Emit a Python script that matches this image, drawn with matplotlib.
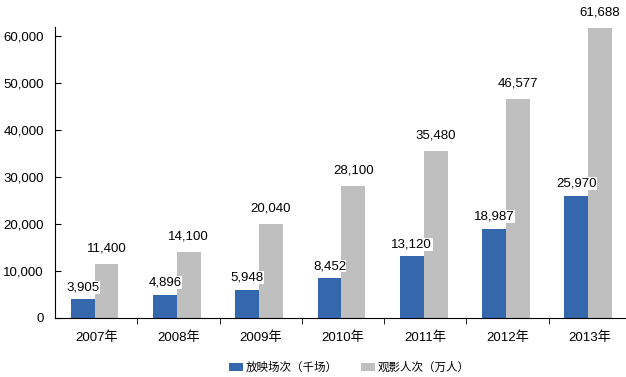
import numpy as np
import matplotlib.pyplot as plt
from matplotlib.ticker import FuncFormatter, FixedLocator

years = ['2007年', '2008年', '2009年', '2010年', '2011年', '2012年', '2013年']
screenings = [3905, 4896, 5948, 8452, 13120, 18987, 25970]
admissions = [11400, 14100, 20040, 28100, 35480, 46577, 61688]
series_names = ['放映场次（千场）', '观影人次（万人）']

plt.rcParams['font.family'] = ['Liberation Sans', 'Noto Sans CJK SC', 'DejaVu Sans']
fs = 9.5

fig = plt.figure(figsize=(6.26, 3.77), dpi=100)
# the category axis runs a little past the right edge of the figure, as in the original
ax = fig.add_axes([0.088, 0.157, 0.92, 0.772])

x = np.arange(len(years))
w = 0.29
shift = -0.02
blue = '#3467AC'
gray = '#BFBFBF'
b1 = ax.bar(x - w / 2 + shift, screenings, w, color=blue, label=series_names[0])
b2 = ax.bar(x + w / 2 + shift, admissions, w, color=gray, label=series_names[1])

for xi, v in zip(x, screenings):
    ax.text(xi - w / 2 + shift, v + 1300, f'{v:,}', ha='center', va='bottom', fontsize=fs,
            bbox=dict(facecolor='white', edgecolor='none', pad=0.3))
for xi, v in zip(x, admissions):
    ax.text(xi + w / 2 + shift, v + 2000, f'{v:,}', ha='center', va='bottom', fontsize=fs)

ax.set_xlim(-0.5, len(years) - 0.5)
ax.set_ylim(0, 62000)
ax.set_yticks(range(0, 60001, 10000))
ax.yaxis.set_major_formatter(FuncFormatter(lambda v, p: f'{int(v):,}'))
ax.tick_params(axis='y', direction='in', length=4, labelsize=fs, pad=8)

ax.set_xticks(x)
ax.set_xticklabels(years, fontsize=fs)
ax.tick_params(axis='x', which='major', length=0, pad=10)
ax.xaxis.set_minor_locator(FixedLocator(np.arange(0.5, len(years) - 0.5, 1)))
ax.tick_params(axis='x', which='minor', direction='out', length=4)

for s in ['top', 'right']:
    ax.spines[s].set_visible(False)
ax.spines['left'].set_linewidth(0.8)
ax.spines['bottom'].set_linewidth(0.8)

fig.legend(handles=[b1, b2], loc='center', bbox_to_anchor=(0.558, 0.024), ncol=2,
           frameon=False, fontsize=8.3, handlelength=1.2, handleheight=0.6,
           handletextpad=0.25, columnspacing=2.0)

fig.savefig('out.png', dpi=100)
